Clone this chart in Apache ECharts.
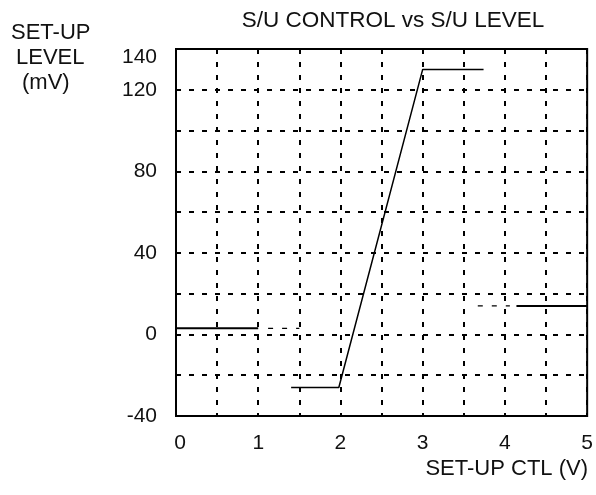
<!DOCTYPE html>
<html>
<head>
<meta charset="utf-8">
<script src="https://cdn.jsdelivr.net/npm/echarts@6/dist/echarts.min.js"></script>
<style>
  html, body { margin: 0; padding: 0; background: #fff; }
  #chart { width: 596px; height: 495px; }
</style>
</head>
<body>
<div id="chart"></div>
<script>
// Set-up level (mV) against set-up control voltage (V)
const xTickLabels = [0, 1, 2, 3, 4, 5];
const yTickLabels = [-40, 0, 40, 80, 120, 140];

// Low plateau, left side
const lowLeftSolid = [[0, 3], [1.0, 3]];
const lowLeftDashed = [[1.12, 3], [1.5, 3]];
// Transition: floor, ramp, ceiling
const rampSegment = [[1.4, -26], [1.98, -26], [3.0, 130], [3.74, 130]];
// Plateau, right side
const highRightDashed = [[3.67, 14], [4.06, 14]];
const highRightSolid = [[4.14, 14], [5.0, 14]];

const FONT = '"Liberation Sans", Arial, Helvetica, sans-serif';
const INK = '#111';
const NAME_SIZE = 22;
const TICK_SIZE = 21;

const chart = echarts.init(document.getElementById('chart'), null, { renderer: 'canvas' });

function seg(data, width, type) {
  return {
    type: 'line',
    data: data,
    showSymbol: false,
    silent: true,
    lineStyle: { color: '#000', width: width, type: type || 'solid' },
    z: 5
  };
}

chart.setOption({
  animation: false,
  backgroundColor: '#fff',
  textStyle: { fontFamily: FONT, color: INK },
  title: {
    text: 'S/U CONTROL vs S/U LEVEL',
    left: 388,
    top: 4,
    textAlign: 'center',
    textStyle: { fontFamily: FONT, fontSize: 22.5, fontWeight: 'normal', color: INK }
  },
  graphic: [
    { type: 'text', left: 11, top: 22, style: { text: 'SET-UP', font: NAME_SIZE + 'px ' + FONT, fill: INK } },
    { type: 'text', left: 16, top: 47, style: { text: 'LEVEL', font: NAME_SIZE + 'px ' + FONT, fill: INK } },
    { type: 'text', left: 22, top: 72, style: { text: '(mV)', font: NAME_SIZE + 'px ' + FONT, fill: INK } },
    { type: 'text', right: 8, top: 458, style: { text: 'SET-UP CTL (V)', font: NAME_SIZE + 'px ' + FONT, fill: INK } }
  ],
  grid: {
    left: 176, right: 8, top: 49, bottom: 79,
    show: true, borderColor: '#000', borderWidth: 2, backgroundColor: 'transparent'
  },
  xAxis: {
    type: 'value',
    min: 0, max: 5, interval: 0.5,
    axisLine: { show: false },
    axisTick: { show: false },
    splitLine: { show: true, lineStyle: { color: '#000', width: 2, type: [5, 8] } },
    axisLabel: {
      margin: 17,
      fontSize: TICK_SIZE, fontFamily: FONT, color: INK,
      formatter: function (v) {
        if (xTickLabels.indexOf(v) < 0) return '';
        if (v === 0) return '{z|0}';
        if (v === 1) return '{o|1}';
        return String(v);
      },
      rich: {
        z: { fontSize: TICK_SIZE, fontFamily: FONT, color: INK, padding: [0, 0, 0, 8] },
        o: { fontSize: TICK_SIZE, fontFamily: FONT, color: INK, padding: [0, 0, 4, 0] }
      }
    }
  },
  yAxis: {
    type: 'value',
    min: -40, max: 140, interval: 20,
    axisLine: { show: false },
    axisTick: { show: false },
    splitLine: { show: true, lineStyle: { color: '#000', width: 2, type: [5, 8] } },
    axisLabel: {
      margin: 19,
      fontSize: TICK_SIZE, fontFamily: FONT, color: INK,
      formatter: function (v) {
        if (yTickLabels.indexOf(v) < 0) return '';
        if (v === 140) return '{t|140}';
        return String(v);
      },
      rich: {
        t: { fontSize: TICK_SIZE, fontFamily: FONT, color: INK, padding: [16, 0, 0, 0] }
      }
    }
  },
  series: [
    seg(lowLeftSolid, 2),
    seg(lowLeftDashed, 1.2, [5, 9]),
    seg(rampSegment, 1.5),
    seg(highRightDashed, 1.2, [5, 9]),
    seg(highRightSolid, 2)
  ]
});
</script>
</body>
</html>
